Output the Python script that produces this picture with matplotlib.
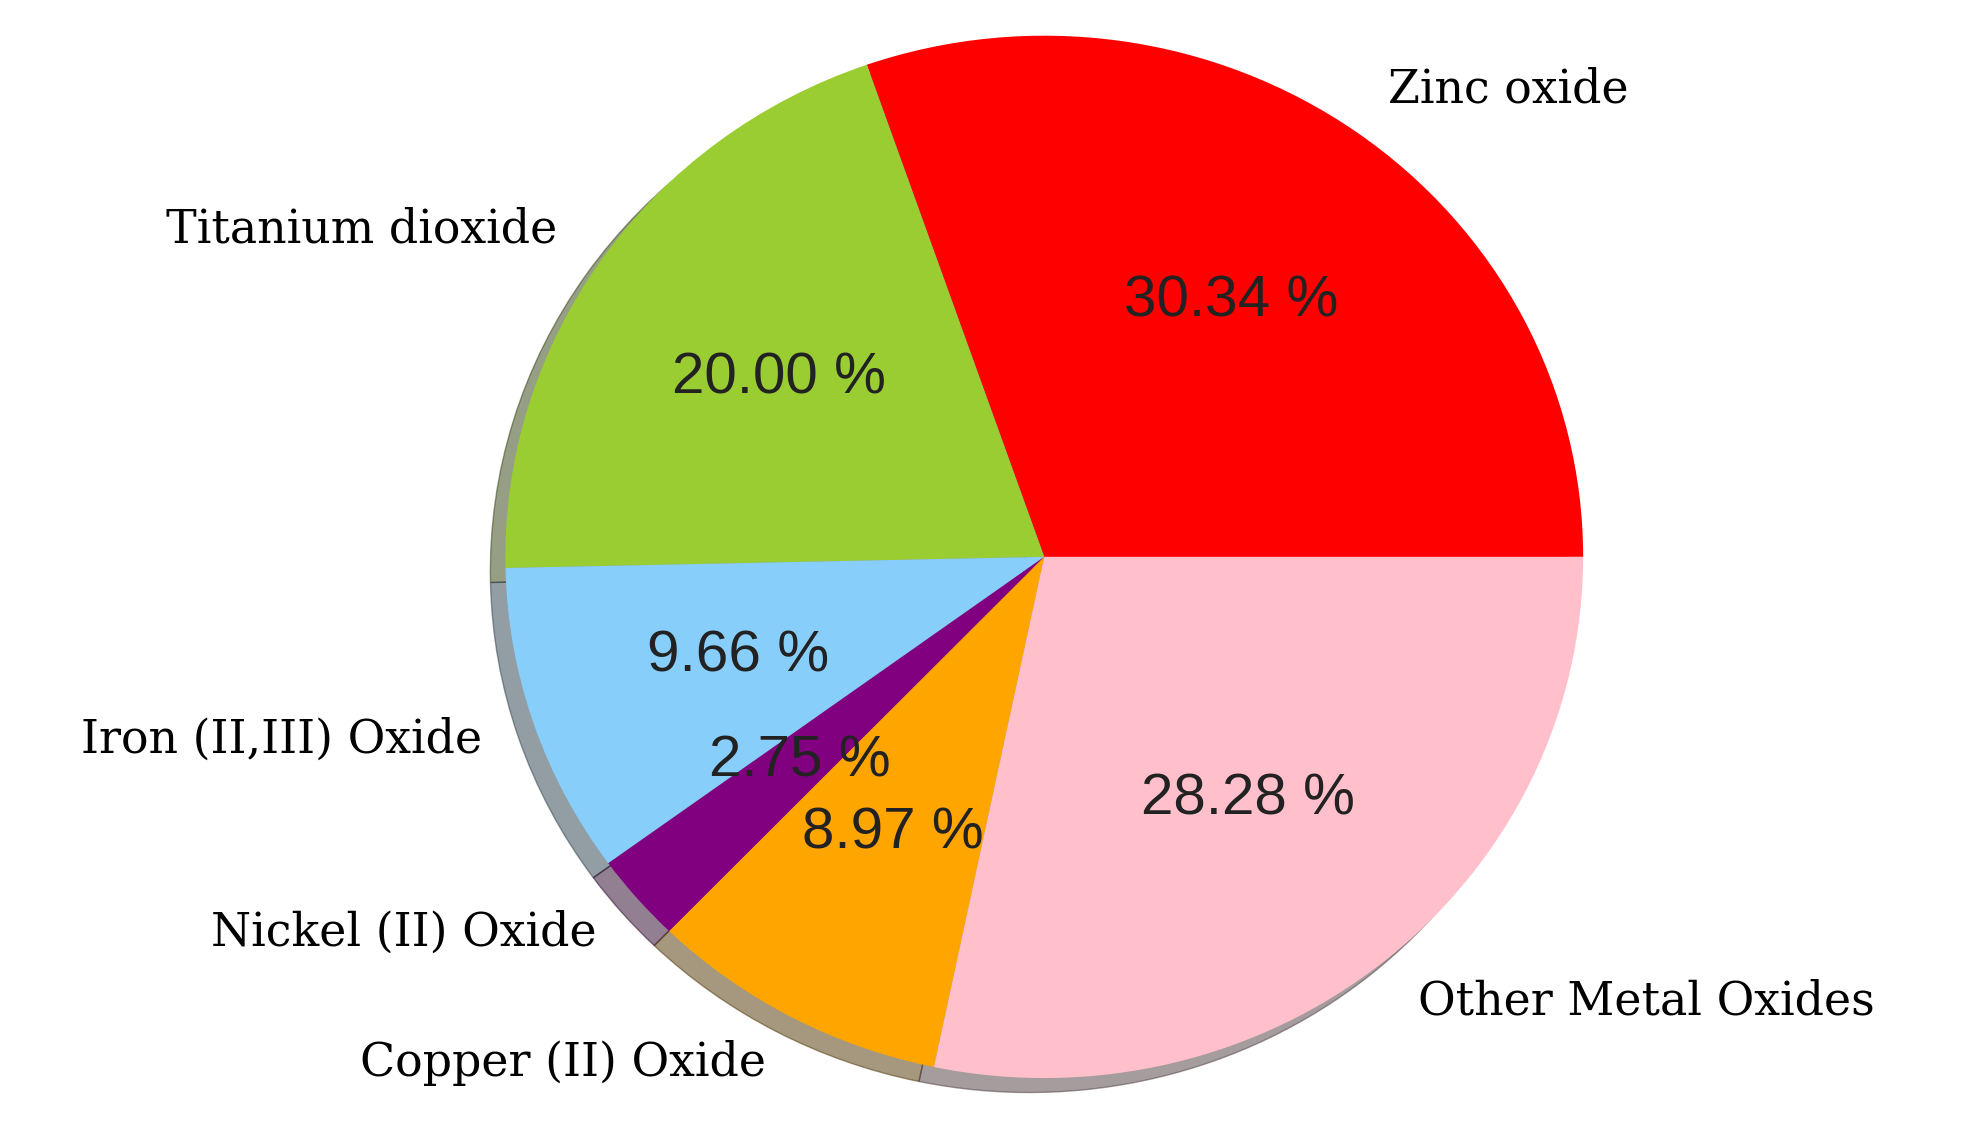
import matplotlib
matplotlib.use("Agg")
import matplotlib.pyplot as plt

labels = ["Zinc oxide", "Titanium dioxide", "Iron (II,III) Oxide", "Nickel (II) Oxide",
          "Copper (II) Oxide", "Other Metal Oxides"]
values = [30.34, 20.00, 9.66, 2.75, 8.97, 28.28]
colors = ["red", "yellowgreen", "lightskyblue", "purple", "orange", "pink"]

fig = plt.figure(figsize=(19.74, 11.33), dpi=100)
ax = fig.add_axes([0.256, 0.0485, 0.546, 0.92])
wedges, texts, autotexts = ax.pie(values, labels=labels, colors=colors, startangle=0,
                                  autopct="%.2f %%", shadow=True, pctdistance=0.6,
                                  labeldistance=1.1,
                                  textprops=dict(fontsize=33, family="DejaVu Serif"))
for t in autotexts:
    t.set_family("Liberation Sans")
    t.set_fontsize(42)
    t.set_color("#222222")
ax.set_aspect("auto")
ax.set_xlim(-1, 1)
ax.set_ylim(-1, 1)
fig.savefig("out.png", dpi=100)
